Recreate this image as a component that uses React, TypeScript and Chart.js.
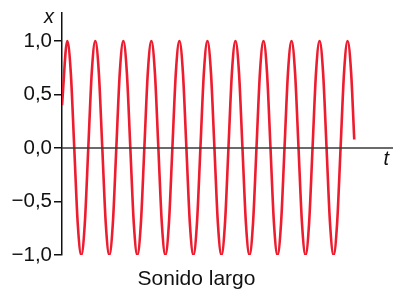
import React, { useEffect, useRef } from 'react';
import { Chart, registerables } from 'chart.js';

Chart.register(...registerables);

const desplazamiento = [
  1, 0.71, 0, -0.71, -1, -0.71, 0, 0.71,
  1, 0.71, 0, -0.71, -1, -0.71, 0, 0.71,
  1, 0.71, 0, -0.71, -1, -0.71, 0, 0.71,
  1, 0.71, 0, -0.71, -1, -0.71, 0, 0.71,
  1, 0.71, 0, -0.71, -1, -0.71, 0, 0.71,
  1, 0.71, 0, -0.71, -1, -0.71, 0, 0.71,
  1, 0.71, 0, -0.71, -1, -0.71, 0, 0.71,
  1, 0.71, 0, -0.71, -1, -0.71, 0, 0.71,
  1, 0.71, 0, -0.71, -1, -0.71, 0, 0.71,
  1, 0.71, 0, -0.71, -1, -0.71, 0, 0.71,
  1, 0.71,
];
const inicio = { t: -1.5, x: 0.4 };
const fin = { t: 81.9, x: 0.08 };
const tMax = 92.96;

const marcasY = [-1, -0.5, 0, 0.5, 1];
const etiquetasY = ['−1,0', '−0,5', '0,0', '0,5', '1,0'];
const yMin = -1;
const yMax = 1.262;

const titulo = 'Sonido largo';
const nombreEjeY = 'x';
const nombreEjeX = 't';

const FONT = '"Liberation Sans", Arial, Helvetica, sans-serif';

export default function App() {
  const ref = useRef<HTMLCanvasElement | null>(null);

  useEffect(() => {
    if (!ref.current) return;
    const puntos = [
      { x: inicio.t, y: inicio.x },
      ...desplazamiento.map((v, i) => ({ x: i, y: v })),
      { x: fin.t, y: fin.x },
    ];

    const extras = {
      id: 'extras',
      afterDatasetsDraw(chart: any) {
        const { ctx, chartArea, scales } = chart;
        const y0 = scales.y.getPixelForValue(0);
        ctx.save();
        ctx.strokeStyle = '#3a3a3a';
        ctx.lineWidth = 1.6;
        ctx.beginPath();
        ctx.moveTo(chartArea.left, y0);
        ctx.lineTo(chartArea.right, y0);
        ctx.stroke();
        ctx.fillStyle = '#111';
        ctx.font = `italic 20px ${FONT}`;
        ctx.textAlign = 'left';
        ctx.textBaseline = 'alphabetic';
        ctx.fillText(nombreEjeY, chartArea.left - 18, chartArea.top + 10);
        ctx.fillText(nombreEjeX, chartArea.right - 9.5, y0 + 17);
        ctx.restore();
      },
    };

    const chart = new Chart(ref.current, {
      type: 'line',
      data: {
        datasets: [
          {
            data: puntos,
            borderColor: '#ED1C2E',
            borderWidth: 2.6,
            pointRadius: 0,
            fill: false,
            cubicInterpolationMode: 'monotone',
            borderCapStyle: 'butt',
          },
        ],
      },
      options: {
        animation: false,
        responsive: false,
        maintainAspectRatio: false,
        layout: { padding: { top: 13, right: 0, bottom: 0, left: 0 } },
        plugins: {
          legend: { display: false },
          tooltip: { enabled: false },
          title: {
            display: true,
            position: 'bottom',
            text: titulo,
            color: '#111',
            font: { family: FONT, size: 21, weight: 'normal', lineHeight: 1 },
            padding: { top: 14, bottom: 1 },
          },
        },
        scales: {
          x: { type: 'linear', display: false, min: inicio.t, max: tMax },
          y: {
            type: 'linear',
            min: yMin,
            max: yMax,
            afterBuildTicks: (s: any) => {
              s.ticks = marcasY.map((v) => ({ value: v }));
            },
            afterFit: (s: any) => {
              s.width = 62;
              s.paddingTop = 0;
              s.paddingBottom = 0;
            },
            grid: {
              drawOnChartArea: false,
              drawTicks: true,
              tickLength: 8,
              color: '#111',
              lineWidth: 1.5,
            },
            border: { display: true, color: '#111', width: 1.5 },
            ticks: {
              autoSkip: false,
              color: '#111',
              padding: 2,
              font: { family: FONT, size: 20.5 },
              callback: (v: any) => {
                const i = marcasY.indexOf(Number(v));
                return i >= 0 ? etiquetasY[i] : '';
              },
            },
          },
        },
      },
      plugins: [extras],
    } as any);

    return () => chart.destroy();
  }, []);

  return (
    <canvas
      ref={ref}
      width={393}
      height={291}
      style={{ position: 'fixed', left: 0, top: 0, width: 393, height: 291 }}
    />
  );
}
